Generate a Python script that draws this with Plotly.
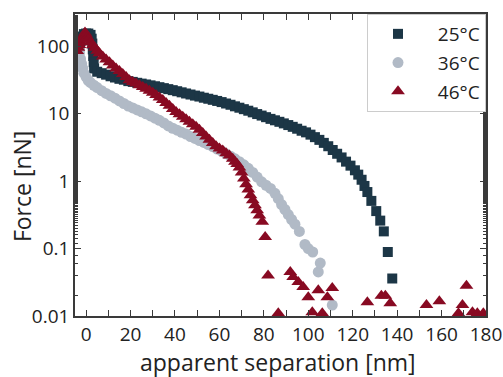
import plotly.graph_objects as go

# 25°C series
x25 = [-3.5, -3, -2.5, -2, -1, 0, 1, 2, 2.5, 2.8, 3, 3.2, 3.4, 3.6,
       5, 7, 9, 11, 13, 15, 17, 19, 21, 23, 25, 27, 29, 31, 33, 35, 37, 39,
       41, 43, 45, 47, 49, 51, 53, 55, 57, 59, 61, 63, 65, 67, 69, 71, 73, 75,
       77, 79, 81, 83, 85, 87, 89, 91, 93, 95, 97, 99, 101, 103, 105, 107, 109,
       111, 113, 115, 117, 119, 121, 122.5, 124, 125.3, 126.6, 128.4, 130.6,
       132.4, 134, 135.8, 137.8]
y25 = [85, 100, 120, 140, 152, 155, 155, 148, 130, 110, 90, 72, 58, 47,
       42, 40, 38, 36, 34.5, 33, 32, 30.5, 29.7, 28.8, 28, 27.2, 26.4, 25.6, 24.8, 24, 23.2, 22.4,
       21.6, 20.8, 20, 19.3, 18.6, 18, 17.3, 16.7, 16.1, 15.5, 14.9, 14.2, 13.6, 12.9, 12.3, 11.7, 11.1, 10.5,
       9.9, 9.4, 8.9, 8.4, 8.0, 7.6, 7.2, 6.8, 6.4, 6.0, 5.6, 5.3, 4.9, 4.5, 4.1, 3.7, 3.3,
       2.9, 2.55, 2.25, 1.95, 1.7, 1.45, 1.25, 1.05, 0.85, 0.69, 0.51, 0.36,
       0.26, 0.18, 0.089, 0.036]

# 36°C series
x36 = [-3.5, -3, -2.5, -2, -1.5, -1, 0, 1, 2, 3.5, 5, 7, 9, 11, 13, 15, 17, 19,
       21, 23, 25, 27, 29, 31, 33, 35, 37, 39, 41, 43, 45, 47, 49, 51, 53, 55,
       57, 59, 61, 63, 65, 67, 69, 71, 73, 75, 77, 79, 81, 83, 85, 86.5, 88,
       89.5, 91, 92.5, 94, 96, 98.5, 100, 102, 104.5, 105.4, 110.8]
y36 = [95, 80, 65, 55, 47, 40, 35, 31, 29, 26.5, 24.5, 22, 20, 18.5, 17, 15.5, 14.2, 13,
       12.2, 11.4, 10.7, 10, 9.3, 8.6, 8, 7.3, 6.6, 6.1, 5.7, 5.3, 5.0, 4.6, 4.3, 4.0, 3.75, 3.5,
       3.25, 3.0, 2.8, 2.55, 2.35, 2.15, 1.95, 1.75, 1.55, 1.35, 1.15, 0.98, 0.87, 0.78, 0.66, 0.55, 0.45,
       0.38, 0.32, 0.27, 0.23, 0.18, 0.115, 0.1, 0.089, 0.045, 0.061, 0.0145]

# 46°C series
x46 = [-4, -3.5, -3, -2.5, -2, -1.5, -1, -0.5, 0, 0.5, 1, 2, 3, 4, 5, 6, 7.5, 9,
       10.5, 12, 13.5, 15, 16.5, 18, 19.5, 21, 22.5, 24, 25.5, 27, 28.5, 30,
       31.5, 33, 34.5, 36, 37.5, 39, 40.5, 42, 43.5, 45, 46.5, 48, 49.5, 51,
       52.5, 54, 55.5, 57, 58.5, 60, 61.5, 63, 64.5, 66, 67, 68, 69, 70, 71, 72,
       73, 74, 75, 76, 77, 78, 79.3, 80.6, 81.9,
       86.5, 91.9, 93.2, 95.5, 97.7, 100, 101.8, 104.5, 106.3, 108.6, 110.8,
       126.6, 132.9, 134.7, 136.9, 153.2, 159, 167.6, 169.4, 171.2, 173.9, 176.1, 178.8]
y46 = [85, 95, 105, 115, 125, 135, 148, 160, 150, 138, 128, 115, 104, 95, 86, 79, 71, 64,
       58, 52, 47, 43, 39, 35, 31.5, 29.5, 28, 26.5, 25, 23.5, 22, 20.5,
       19, 17.5, 16, 14.5, 13.2, 11.8, 10.6, 9.8, 9.0, 8.3, 7.6, 7.0, 6.4, 5.8,
       5.2, 4.6, 4.1, 3.7, 3.3, 3.05, 2.85, 2.6, 2.4, 2.15, 1.95, 1.8, 1.6, 1.35, 1.1, 0.9,
       0.75, 0.62, 0.52, 0.44, 0.37, 0.31, 0.25, 0.148, 0.040,
       0.011, 0.045, 0.038, 0.032, 0.027, 0.019, 0.0114, 0.024, 0.011, 0.019, 0.026,
       0.016, 0.020, 0.020, 0.0155, 0.0145, 0.0166, 0.011, 0.0145, 0.028, 0.0114, 0.011, 0.011]

names = ["25°C", "36°C", "46°C"]
colors = ["#1c3646", "#b1bac6", "#880a22"]
symbols = ["square", "circle", "triangle-up"]
sizes = [10, 11, 12]

FONT = "Open Sans"
PAD = "\u00a0\u00a0"

fig = go.Figure()
for i, (xs, ys) in enumerate([(x25, y25), (x36, y36), (x46, y46)]):
    fig.add_trace(go.Scatter(
        x=xs, y=ys, mode="markers", name=PAD + names[i], legendgroup=names[i],
        marker=dict(symbol=symbols[i], size=sizes[i], color=colors[i], line=dict(width=0)),
    ))

axis_common = dict(
    showline=True, linecolor="#3a3a3a", linewidth=1.5, mirror="allticks",
    ticks="inside", tickcolor="#3a3a3a", ticklen=6, tickwidth=1.2,
    showgrid=False, zeroline=False, automargin=False,
    tickfont=dict(family=FONT, size=19, color="#222"),
)

fig.update_xaxes(
    **axis_common, range=[-5, 180], tickvals=[0, 20, 40, 60, 80, 100, 120, 140, 160, 180],
    minor=dict(tickvals=[10, 30, 50, 70, 90, 110, 130, 150, 170], ticklen=6, tickcolor="#3a3a3a", ticks="inside"),
)
fig.update_yaxes(
    **axis_common, type="log", range=[-2, 2.48],
    tickvals=[0.01, 0.1, 1, 10, 100], ticktext=["0.01", "0.1", "1", "10", "100"],
    minor=dict(ticklen=3, tickcolor="#3a3a3a", ticks="inside", showgrid=False),
)

title_font = dict(family=FONT, size=23, color="#222")
fig.add_annotation(text="apparent separation [nm]", xref="paper", yref="paper",
                   x=0.495, y=-0.153, xanchor="center", yanchor="middle",
                   showarrow=False, font=title_font)
fig.add_annotation(text="Force [nN]", xref="paper", yref="paper",
                   x=-0.129, y=0.43, xanchor="center", yanchor="middle", textangle=-90,
                   showarrow=False, font=title_font)

fig.update_layout(
    width=503, height=377,
    margin=dict(l=75, r=17, t=14, b=61),
    paper_bgcolor="white", plot_bgcolor="white",
    showlegend=True,
    legend=dict(
        x=1, y=1, xanchor="right", yanchor="top",
        bgcolor="white", bordercolor="#cccccc", borderwidth=1,
        font=dict(family=FONT, size=19, color="#222"),
        tracegroupgap=1, itemwidth=50,
    ),
)

fig.write_html(
    "out.html",
    config={"displayModeBar": False},
    post_script="document.body.style.margin='0';document.body.style.overflow='hidden';",
)
